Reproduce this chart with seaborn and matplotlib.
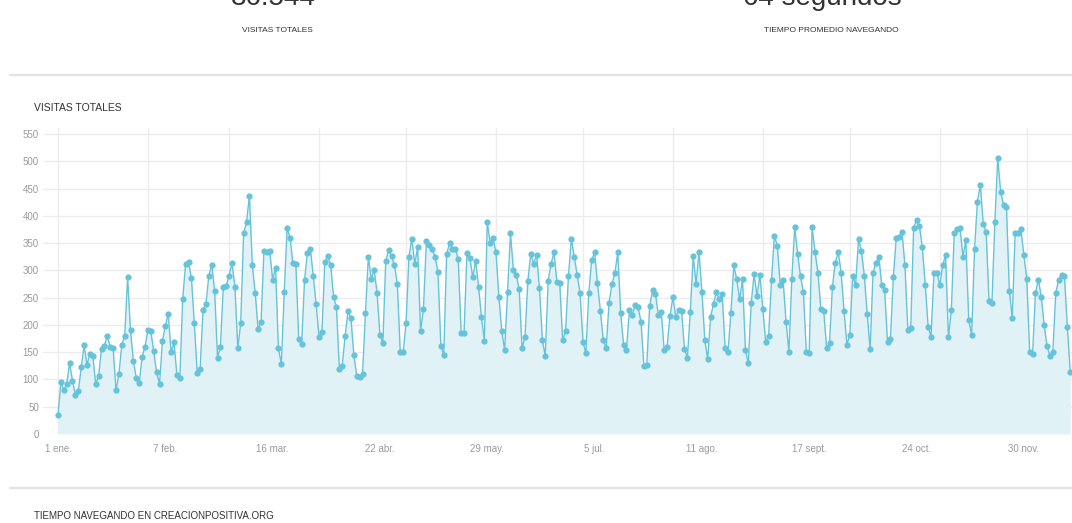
import numpy as np
import pandas as pd
import matplotlib
matplotlib.use("Agg")
import matplotlib.pyplot as plt
import matplotlib.dates as mdates
from matplotlib.lines import Line2D
import seaborn as sns

# ---- data (daily visits, 2017-01-01 onwards) ----
visitas_t1 = [35, 95, 80, 92, 130, 98, 72, 78, 122, 163,
              127, 147, 143, 92, 107, 155, 162, 180, 160, 158,
              80, 110, 163, 180, 287, 190, 133, 103, 93, 142,
              160, 191, 188, 152, 113, 92, 170, 198, 220, 150,
              168, 108, 103, 248, 312, 315, 286, 203, 112, 119,
              228, 238, 290, 310, 263, 140, 160, 270, 272, 290,
              314, 270, 157, 204, 368, 388, 437, 310, 258, 192,
              205, 335, 333, 335, 283, 305, 157, 128, 260, 377,
              360, 313, 312, 175, 165, 282, 332, 340, 290, 238]
visitas_t2 = [178, 187, 315, 327, 310, 252, 233, 120, 125, 180,
              225, 212, 145, 107, 105, 110, 221, 325, 285, 301,
              259, 182, 166, 317, 337, 326, 309, 275, 150, 150,
              203, 325, 358, 312, 342, 189, 229, 353, 347, 339,
              325, 297, 162, 144, 330, 350, 340, 340, 320, 185,
              186, 331, 323, 287, 318, 270, 214, 171, 388, 350,
              359, 333, 252, 188, 154, 261, 368, 301, 292, 265,
              157, 177, 281, 330, 312, 329, 268, 172, 143, 281,
              312, 333, 279, 276, 172, 189, 290, 358, 325, 292]
visitas_t3 = [258, 169, 148, 258, 319, 333, 276, 226, 172, 158,
              241, 275, 295, 333, 222, 163, 154, 227, 218, 237,
              232, 206, 125, 127, 235, 264, 256, 218, 224, 154,
              160, 216, 251, 215, 227, 226, 155, 140, 224, 326,
              275, 333, 261, 172, 137, 215, 238, 261, 247, 257,
              157, 150, 222, 309, 284, 247, 284, 154, 130, 240,
              293, 253, 292, 229, 169, 180, 282, 363, 345, 274,
              282, 206, 151, 284, 380, 330, 289, 260, 150, 148,
              379, 334, 296, 230, 226, 157, 167, 270, 314, 334]
visitas_t4 = [296, 226, 164, 182, 290, 273, 358, 335, 290, 220,
              155, 295, 314, 325, 274, 264, 169, 175, 287, 359,
              362, 370, 309, 191, 194, 378, 392, 382, 342, 274,
              197, 178, 296, 296, 273, 309, 328, 177, 227, 368,
              375, 377, 325, 355, 209, 182, 339, 426, 457, 385,
              371, 244, 241, 388, 506, 444, 420, 417, 263, 212,
              369, 369, 375, 328, 285, 151, 146, 258, 283, 252,
              200, 161, 143, 151, 258, 283, 292, 289, 197, 113]

fecha_inicio = "2017-01-01"
tick_labels = ["1 ene.", "7 feb.", "16 mar.", "22 abr.", "29 may.",
               "5 jul.", "11 ago.", "17 sept.", "24 oct.", "30 nov."]
y_ticks = list(range(0, 551, 50))

visitas = visitas_t1 + visitas_t2 + visitas_t3 + visitas_t4
fechas = pd.date_range(fecha_inicio, periods=len(visitas), freq="D")
df = pd.DataFrame({"fecha": fechas, "visitas": visitas})
tick_dates = pd.date_range(fecha_inicio, periods=len(tick_labels), freq="37D")
month_starts = pd.date_range(fecha_inicio, periods=12, freq="MS")

# ---- style ----
sns.set_style("white")
plt.rcParams["font.family"] = ["Liberation Sans Narrow", "Liberation Sans", "DejaVu Sans"]

LINE = "#66c3d9"
FILL = "#e1f2f7"
GRID = "#ececec"
TICKTXT = "#9a9a9a"
TXT = "#333333"

W, H = 1072, 523
fig = plt.figure(figsize=(W / 100, H / 100), dpi=100)
fig.patch.set_facecolor("white")

ax_left, ax_bottom_px, ax_top_px = 43, 434, 128
ax = fig.add_axes([ax_left / W, 1 - ax_bottom_px / H, 1 - ax_left / W,
                   (ax_bottom_px - ax_top_px) / H])
ax.set_facecolor("white")

ax.fill_between(df["fecha"], df["visitas"], 0, color=FILL, zorder=1, lw=0)
sns.lineplot(data=df, x="fecha", y="visitas", ax=ax, color=LINE, lw=1.0,
             marker="o", markersize=4.5, markeredgewidth=0,
             markerfacecolor=LINE, zorder=3)

for m in month_starts:
    ax.axvline(m, color=GRID, lw=1, zorder=0)

ax.set_ylim(0, 561)
ax.set_yticks(y_ticks)
ax.grid(axis="y", color=GRID, lw=1, zorder=0)
ax.set_axisbelow(True)

ax.set_xlim(fechas[0] - pd.Timedelta(days=5.17), fechas[0] + pd.Timedelta(days=349.6))
ax.set_xticks(tick_dates)
ax.set_xticklabels(tick_labels)
ax.xaxis.set_minor_locator(mdates.DayLocator())
ax.tick_params(axis="x", which="major", length=4.5, width=0.8, color="#dddddd",
               labelsize=7, labelcolor=TICKTXT, pad=2.5)
ax.tick_params(axis="x", which="minor", length=4.5, width=0.6, color="#e2e2e2")
ax.tick_params(axis="y", length=0, labelsize=7, labelcolor=TICKTXT, pad=3)
ax.set_xlabel("")
ax.set_ylabel("")
for s in ax.spines.values():
    s.set_visible(False)

# ---- surrounding page texts ----
fig.text(273 / W, 1 - 5 / H, "36.544", fontsize=20, ha="center", va="baseline", color=TXT)
fig.text(822 / W, 1 - 5 / H, "64 segundos", fontsize=20, ha="center", va="baseline", color=TXT)
fig.text(277 / W, 1 - 31 / H, "VISITAS TOTALES", fontsize=6, ha="center", va="center", color=TXT)
fig.text(831 / W, 1 - 31 / H, "TIEMPO PROMEDIO NAVEGANDO", fontsize=6, ha="center", va="center", color=TXT)
fig.add_artist(Line2D([10 / W, 1], [1 - 75 / H] * 2, color="#e3e3e3", lw=1.6))
fig.text(34 / W, 1 - 108 / H, "VISITAS TOTALES", fontsize=7.5, ha="left", va="center", color=TXT)
fig.add_artist(Line2D([10 / W, 1], [1 - 488 / H] * 2, color="#e3e3e3", lw=1.6))
fig.text(34 / W, 1 - 516 / H, "TIEMPO NAVEGANDO EN CREACIONPOSITIVA.ORG", fontsize=7,
         ha="left", va="center", color=TXT)

fig.savefig("out.png", dpi=100, facecolor="white")
